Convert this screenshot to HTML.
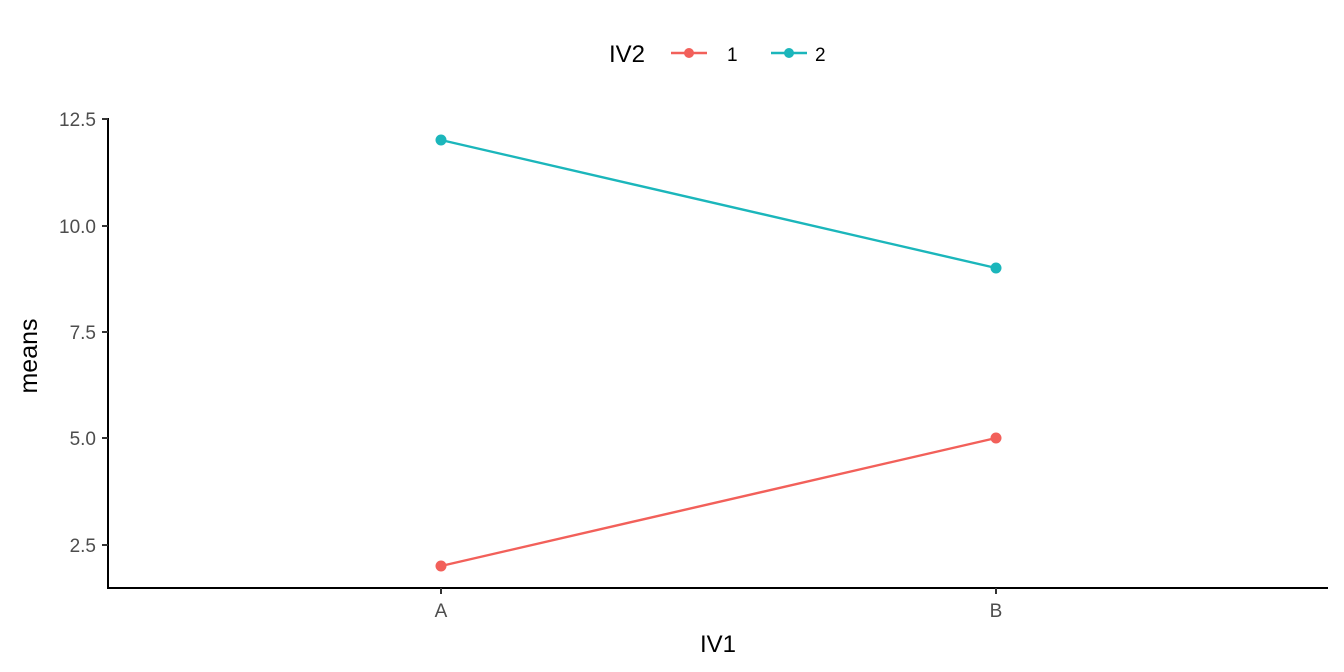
<!DOCTYPE html>
<html><head><meta charset="utf-8"><style>body{margin:0;background:#fff}svg{display:block}</style></head>
<body>
<svg width="1344" height="672" xmlns="http://www.w3.org/2000/svg" font-family="Liberation Sans, Arial, sans-serif">
<rect width="1344" height="672" fill="#fff"/>
<!-- legend -->
<text x="609" y="62" font-size="24" fill="#000">IV2</text>
<line x1="671" y1="53" x2="707" y2="53" stroke="#F2605A" stroke-width="2.4"/>
<circle cx="689" cy="53" r="5" fill="#F2605A"/>
<text x="727" y="61" font-size="19" fill="#000">1</text>
<line x1="771" y1="53" x2="807" y2="53" stroke="#1BB6BB" stroke-width="2.4"/>
<circle cx="789" cy="53" r="5" fill="#1BB6BB"/>
<text x="815" y="61" font-size="19" fill="#000">2</text>
<!-- axes -->
<line x1="108" y1="118" x2="108" y2="589" stroke="#000" stroke-width="2"/>
<line x1="107" y1="588" x2="1328" y2="588" stroke="#000" stroke-width="2"/>
<g stroke="#333" stroke-width="2">
<line x1="102" y1="119" x2="108" y2="119"/>
<line x1="102" y1="226" x2="108" y2="226"/>
<line x1="102" y1="332" x2="108" y2="332"/>
<line x1="102" y1="438" x2="108" y2="438"/>
<line x1="102" y1="545" x2="108" y2="545"/>
<line x1="441" y1="588" x2="441" y2="594"/>
<line x1="996" y1="588" x2="996" y2="594"/>
</g>
<g font-size="19" fill="#4d4d4d" text-anchor="end">
<text x="96" y="126">12.5</text>
<text x="96" y="233">10.0</text>
<text x="96" y="339">7.5</text>
<text x="96" y="445">5.0</text>
<text x="96" y="552">2.5</text>
</g>
<g font-size="19" fill="#4d4d4d" text-anchor="middle">
<text x="441" y="617">A</text>
<text x="996" y="617">B</text>
</g>
<text x="718" y="652" font-size="24" text-anchor="middle" fill="#000">IV1</text>
<text transform="translate(37,356) rotate(-90)" font-size="25" text-anchor="middle" fill="#000">means</text>
<!-- series -->
<line x1="441" y1="140" x2="996" y2="268" stroke="#1BB6BB" stroke-width="2.4"/>
<line x1="441" y1="566" x2="996" y2="438" stroke="#F2605A" stroke-width="2.4"/>
<circle cx="441" cy="140" r="5.5" fill="#1BB6BB"/>
<circle cx="996" cy="268" r="5.5" fill="#1BB6BB"/>
<circle cx="441" cy="566" r="5.5" fill="#F2605A"/>
<circle cx="996" cy="438" r="5.5" fill="#F2605A"/>
</svg>
</body></html>
